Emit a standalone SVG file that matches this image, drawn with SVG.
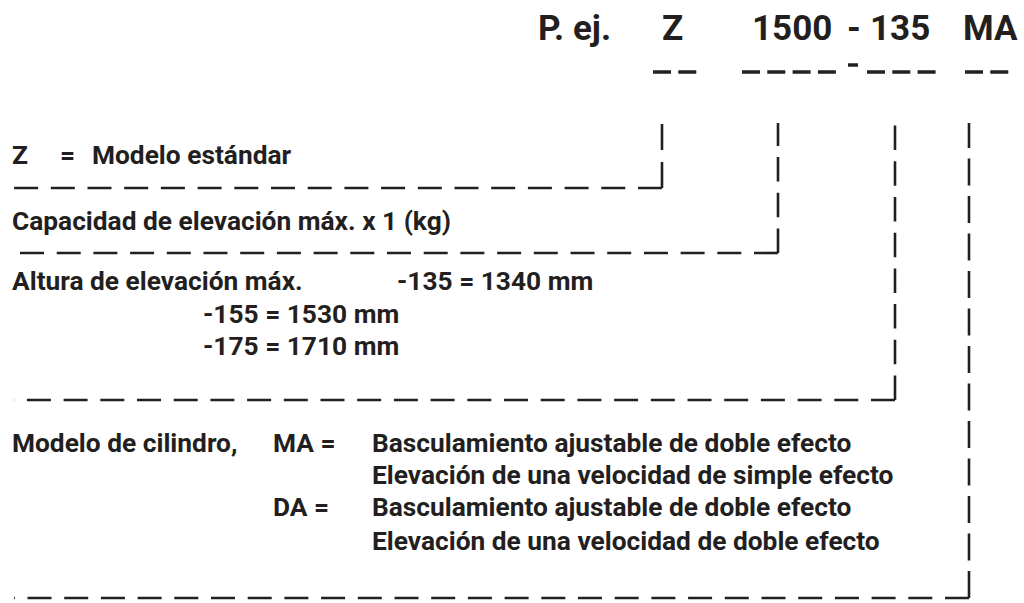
<svg xmlns="http://www.w3.org/2000/svg" width="1024" height="603" viewBox="0 0 1024 603">
<style>
  .hdr { font-family: Roboto, "Liberation Sans", sans-serif; font-weight: 700; font-size: 35px; fill: #231f20; }
  .t { font-family: Roboto, "Liberation Sans", sans-serif; font-weight: 700; font-size: 26.3px; fill: #231f20; }
  .ul { stroke: #231f20; stroke-width: 3.5; fill: none; stroke-dasharray: 18 7.3; }
  .h { stroke: #231f20; stroke-width: 2.6; fill: none; stroke-dasharray: 24 12.7; }
  .va { stroke: #231f20; stroke-width: 2.6; fill: none; stroke-dasharray: 26 12; }
  .vb { stroke: #231f20; stroke-width: 2.6; fill: none; stroke-dasharray: 24.5 11.2; }
  .vc { stroke: #231f20; stroke-width: 2.6; fill: none; stroke-dasharray: 27 10.5; }
</style>
<rect width="1024" height="603" fill="#ffffff"/>
<g id="header">
  <text class="hdr" x="538" y="40">P. ej.</text>
  <text class="hdr" x="662" y="40">Z</text>
  <text class="hdr" x="752" y="40">1500</text>
  <text class="hdr" x="847" y="40">-</text>
  <text class="hdr" x="870" y="40">135</text>
  <text class="hdr" x="963" y="40">MA</text>
  <path class="ul" d="M653 72 H697"/>
  <path class="ul" d="M742 72 H836"/>
  <line x1="848" y1="65" x2="858" y2="65" stroke="#231f20" stroke-width="3.5"/>
  <path class="ul" d="M867 72 H937"/>
  <path class="ul" d="M965 72 H1009"/>
</g>
<g id="node-z">
  <text class="t" x="12" y="164">Z</text>
  <text class="t" x="60" y="164">=</text>
  <text class="t" x="92" y="164">Modelo estándar</text>
</g>
<g id="node-capacidad">
  <text class="t" x="12" y="230">Capacidad de elevación máx. x 1 (kg)</text>
</g>
<g id="node-altura">
  <text class="t" x="12" y="290">Altura de elevación máx.</text>
  <text class="t" x="397" y="290">-135 = 1340 mm</text>
  <text class="t" x="203" y="323">-155 = 1530 mm</text>
  <text class="t" x="203" y="355">-175 = 1710 mm</text>
</g>
<g id="node-cilindro">
  <text class="t" x="12" y="452">Modelo de cilindro,</text>
  <text class="t" x="273" y="452">MA =</text>
  <text class="t" x="372" y="452">Basculamiento ajustable de doble efecto</text>
  <text class="t" x="372" y="484">Elevación de una velocidad de simple efecto</text>
  <text class="t" x="273" y="516">DA =</text>
  <text class="t" x="372" y="516">Basculamiento ajustable de doble efecto</text>
  <text class="t" x="372" y="550">Elevación de una velocidad de doble efecto</text>
</g>
<g id="connectors">
  <path class="va" d="M662 188 V123"/>
  <path class="h" d="M662 188 H14"/>
  <path class="vb" d="M778 253 V123"/>
  <path class="h" d="M778 253 H14"/>
  <path class="vb" d="M895 400 V122"/>
  <path class="h" d="M895 400 H14"/>
  <path class="vc" d="M969 598 V123"/>
  <path class="h" d="M969 598 H14"/>
</g>
</svg>
